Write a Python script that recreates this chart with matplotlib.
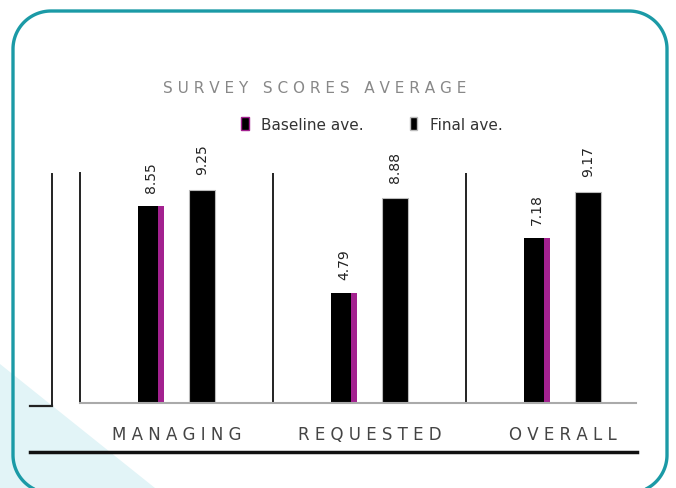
import matplotlib.pyplot as plt
from matplotlib.patches import Polygon, Patch
import numpy as np

categories = ["MANAGING", "REQUESTED", "OVERALL"]
baseline_ave = [8.55, 4.79, 7.18]
final_ave = [9.25, 8.88, 9.17]
series_labels = ["Baseline ave.", "Final ave."]
title_text = "SURVEY SCORES AVERAGE"

W, H = 676, 489
fig = plt.figure(figsize=(W / 100, H / 100), dpi=100)

# decorative frame drawn in pixel units (y grows downward)
bg = fig.add_axes([0, 0, 1, 1], zorder=-1)
bg.set_xlim(0, W)
bg.set_ylim(H, 0)
bg.axis("off")
bg.add_patch(Polygon([(0, 365), (0, H), (155, H)], closed=True,
                     facecolor="#e2f4f7", edgecolor="none"))


def arc(cx, cy, r, a0, a1, n=30):
    t = np.radians(np.linspace(a0, a1, n))
    return cx + r * np.cos(t), cy + r * np.sin(t)


r, left, right, top, low = 38, 13, 667, 12, 456
end = np.degrees(np.arcsin(min(1.0, (H + 2 - low) / r)))
parts = [arc(left + r, low, r, 180 - end, 180),
         arc(left + r, top + r, r, 180, 270),
         arc(right - r, top + r, r, 270, 360),
         arc(right - r, low, r, 0, end)]
fx = np.concatenate([p[0] for p in parts])
fy = np.concatenate([p[1] for p in parts])
bg.plot(fx, fy, color="#1b9aa6", lw=2.4, solid_capstyle="round")

bg.plot([52, 52], [175, 407], color="#222222", lw=1.4)
bg.plot([30, 52], [407, 407], color="#222222", lw=1.6)
bg.plot([30, 637], [453, 453], color="#111111", lw=2.5)

ax = fig.add_axes([80 / W, (H - 404) / H, 579 / W, 230.4 / H])
x = np.arange(len(categories))
off, bw, strip = 0.132, 0.135, 0.03

b1 = ax.bar(x - off, baseline_ave, width=bw, color="black", zorder=3)
ax.bar(x - off + bw / 2 - strip / 2, baseline_ave, width=strip,
       color="#a3218f", zorder=4)
b2 = ax.bar(x + off, final_ave, width=bw, color="black",
            edgecolor="#bbbbbb", lw=0.8, zorder=3)

for xi, v in zip(x - off, baseline_ave):
    ax.text(xi, v + 0.6, f"{v:.2f}", rotation=90, ha="center", va="bottom",
            fontsize=10, color="#222222")
for xi, v in zip(x + off, final_ave):
    ax.text(xi, v + 0.7, f"{v:.2f}", rotation=90, ha="center", va="bottom",
            fontsize=10, color="#222222")

ax.set_xlim(-0.5, 2.5)
ax.set_ylim(0, 10)
for s in ["top", "right", "bottom"]:
    ax.spines[s].set_visible(False)
ax.spines["left"].set_color("#222222")
ax.spines["left"].set_linewidth(1.4)
ax.axvline(0.5, color="#222222", lw=1.4)
ax.axvline(1.5, color="#222222", lw=1.4)
ax.plot([-0.5, 2.38], [0, 0], color="#aaaaaa", lw=1.5, clip_on=False, zorder=5)
ax.set_yticks([])
ax.set_xticks(x)
ax.set_xticklabels([" ".join(c) for c in categories], fontsize=12,
                   color="#444444")
ax.tick_params(axis="x", length=0, pad=16)

fig.text(0.466, 0.82, " ".join(title_text), ha="center", va="center",
         fontsize=11, color="#888888")

handles = [Patch(facecolor="black", edgecolor="#a3218f"),
           Patch(facecolor="black", edgecolor="#bbbbbb")]
fig.legend(handles, series_labels, ncol=2, loc="center",
           bbox_to_anchor=(0.55, 0.744), frameon=False, fontsize=11,
           handlelength=0.5, handleheight=1.0, columnspacing=3.0,
           labelcolor="#333333")

fig.savefig("out.png", dpi=100)
